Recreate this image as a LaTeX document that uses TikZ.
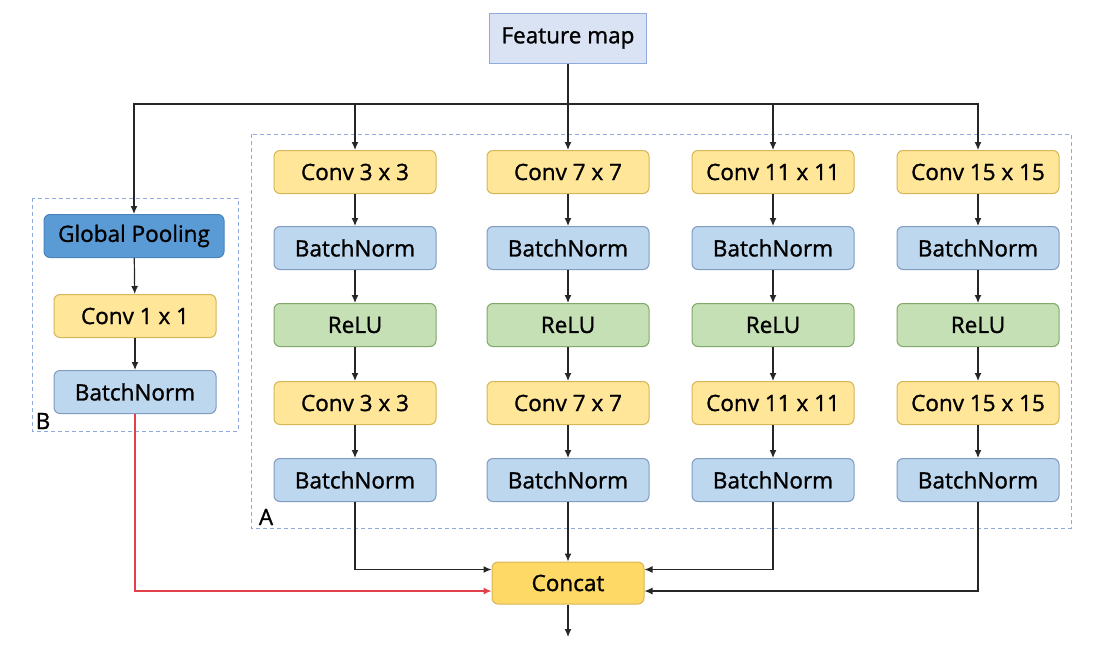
\documentclass[tikz,border=0pt]{standalone}
\usepackage{fontspec}
\setmainfont{Open Sans}[UprightFeatures={FakeBold=1.2}]
\usepackage{xcolor}
\usepackage{tikz}
\usetikzlibrary{arrows.meta}
\usetikzlibrary{calc}
\usetikzlibrary{positioning}

\definecolor{convfill}{HTML}{FFE699}
\definecolor{convline}{HTML}{D6B656}
\definecolor{bnfill}{HTML}{BDD7EE}
\definecolor{bnline}{HTML}{7F9CC0}
\definecolor{relufill}{HTML}{C5E0B4}
\definecolor{reluline}{HTML}{82A86A}
\definecolor{gpfill}{HTML}{5B9BD5}
\definecolor{gpline}{HTML}{4A84BD}
\definecolor{fmfill}{HTML}{DAE3F3}
\definecolor{catfill}{HTML}{FFD966}
\definecolor{boxline}{HTML}{8FAADC}
\definecolor{redline}{HTML}{E0404A}

\tikzset{
  layer/.style={draw, rounded corners=6pt, line width=1pt, minimum width=162pt,
    minimum height=43pt, inner sep=0pt, font=\fontsize{22.5}{26}\selectfont},
  conv/.style={layer, fill=convfill, draw=convline},
  bnorm/.style={layer, fill=bnfill, draw=bnline},
  relu/.style={layer, fill=relufill, draw=reluline},
  group/.style={draw=boxline, dashed, dash pattern=on 4pt off 3pt, line width=0.9pt},
  link/.style={->, line width=1.2pt, draw=black!85}
}

\begin{document}
\begin{tikzpicture}[x=1pt, y=-1pt, >={Latex[length=8pt,width=7pt]}] % ASPP-like block

  \useasboundingbox (0,0) rectangle (1112,651);

  % dashed groups
  \draw [group] (251,134) rectangle (1071,528);
  \draw [group] (32,198) rectangle (238,431);
  \node [font=\fontsize{22.5}{26}\selectfont] (labA) at (266,517) {A};
  \node [font=\fontsize{22.5}{26}\selectfont] (labB) at (43,421) {B};

  \node [draw=boxline, fill=fmfill, line width=1pt, minimum width=157pt, minimum height=50pt,
    font=\fontsize{22.5}{26}\selectfont] (fm) at (568,38) {Feature map};
  \coordinate (bus) at (568,104);

  % branch B
  \node [layer, fill=gpfill, draw=gpline, minimum width=180pt] (gp) at (134,236) {Global Pooling};
  \node [conv] (convB) at (135,316) {Conv 1 x 1};
  \node [bnorm] (bnB) at (135,392) {BatchNorm};

  % branch A, column 1
  \node [conv] (c3a) at (355,172) {Conv 3 x 3};
  \node [bnorm] (bn3a) at (355,248) {BatchNorm};
  \node [relu] (r3) at (355,325) {ReLU};
  \node [conv] (c3b) at (355,403) {Conv 3 x 3};
  \node [bnorm] (bn3b) at (355,480) {BatchNorm};

  % column 2
  \node [conv] (c7a) at (568,172) {Conv 7 x 7};
  \node [bnorm] (bn7a) at (568,248) {BatchNorm};
  \node [relu] (r7) at (568,325) {ReLU};
  \node [conv] (c7b) at (568,403) {Conv 7 x 7};
  \node [bnorm] (bn7b) at (568,480) {BatchNorm};

  % column 3
  \node [conv] (c11a) at (773,172) {Conv 11 x 11};
  \node [bnorm] (bn11a) at (773,248) {BatchNorm};
  \node [relu] (r11) at (773,325) {ReLU};
  \node [conv] (c11b) at (773,403) {Conv 11 x 11};
  \node [bnorm] (bn11b) at (773,480) {BatchNorm};

  % column 4
  \node [conv] (c15a) at (978,172) {Conv 15 x 15};
  \node [bnorm] (bn15a) at (978,248) {BatchNorm};
  \node [relu] (r15) at (978,325) {ReLU};
  \node [conv] (c15b) at (978,403) {Conv 15 x 15};
  \node [bnorm] (bn15b) at (978,480) {BatchNorm};

  \node [layer, fill=catfill, draw=convline, minimum width=152pt, minimum height=42pt] (cat) at (568,583) {Concat};
  \coordinate (out) at (568,637);

  % feature map to branches
  \draw [link] (fm) -- (c7a);
  \draw [link] (bus) -| (gp);
  \draw [link] (bus) -| (c3a);
  \draw [link] (bus) -| (c11a);
  \draw [link] (bus) -| (c15a);

  \draw [link] (gp) -- (convB);
  \draw [link] (convB) -- (bnB);

  \draw [link] (c3a) -- (bn3a);
  \draw [link] (bn3a) -- (r3);
  \draw [link] (r3) -- (c3b);
  \draw [link] (c3b) -- (bn3b);

  \draw [link] (c7a) -- (bn7a);
  \draw [link] (bn7a) -- (r7);
  \draw [link] (r7) -- (c7b);
  \draw [link] (c7b) -- (bn7b);

  \draw [link] (c11a) -- (bn11a);
  \draw [link] (bn11a) -- (r11);
  \draw [link] (r11) -- (c11b);
  \draw [link] (c11b) -- (bn11b);

  \draw [link] (c15a) -- (bn15a);
  \draw [link] (bn15a) -- (r15);
  \draw [link] (r15) -- (c15b);
  \draw [link] (c15b) -- (bn15b);

  % into concat
  \draw [link] (bn3b) |- (cat.170);
  \draw [link] (bn7b) -- (cat);
  \draw [link] (bn11b) |- (cat.10);
  \draw [link] (bn15b) |- (cat.-6);
  \draw [link, draw=redline] (bnB) |- (cat.186);
  \draw [link] (cat) -- (out);

\end{tikzpicture}
\end{document}
